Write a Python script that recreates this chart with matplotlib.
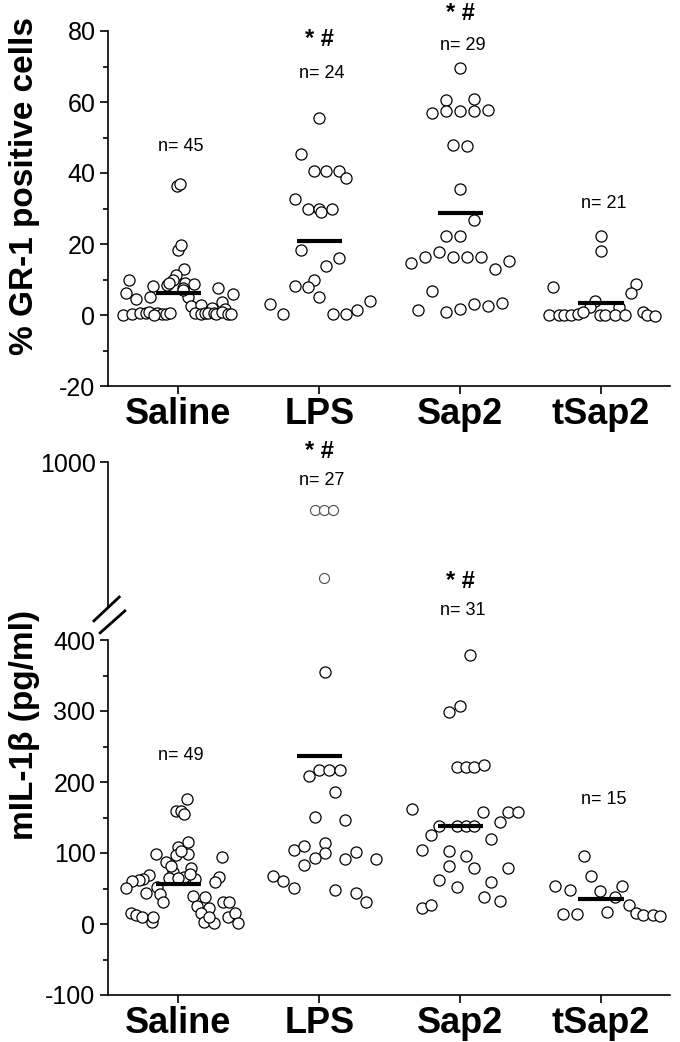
import matplotlib
matplotlib.use('Agg')
import numpy as np
import matplotlib.pyplot as plt
from matplotlib.ticker import MultipleLocator

plt.rcParams['font.family'] = ['Liberation Sans', 'DejaVu Sans']
plt.rcParams['axes.unicode_minus'] = False

groups = ['Saline', 'LPS', 'Sap2', 'tSap2']

# ---- top panel: % GR-1 positive cells (values + horizontal scatter)
gr1_saline = [36.2, 36.9, 18.3, 19.7, 13.0, 11.3, 10.0, 8.5, 8.2, 9.9, 8.9, 8.6, 6.1, 4.4,
              5.2, 5.2, 7.7, 5.9, 3.8, 2.4, 2.8, 2.1, 1.6,
              0.1, 0.2, 0.5, 0.7, 0.9, 0.5, 0.2, 0.2, 0.5, 0.2, 0.5, 0.7, 0.5, 0.2, 0.9, 0.2, 0.2,
              7.6, 8.9, 7.0, 0.0, 0.6]
gr1_saline_dx = [-0.01, 0.01, 0.0, 0.02, 0.04, -0.02, -0.04, -0.08, -0.18, -0.35, 0.05, 0.11,
                 -0.37, -0.30, -0.20, 0.07, 0.28, 0.39, 0.31, 0.09, 0.16, 0.24, 0.33,
                 -0.39, -0.33, -0.27, -0.23, -0.21, -0.15, -0.12, -0.09, 0.12, 0.16, 0.19, 0.21,
                 0.25, 0.27, 0.31, 0.35, 0.37,
                 0.03, -0.07, 0.03, -0.17, -0.06]
gr1_lps = [55.4, 45.3, 40.7, 40.7, 40.7, 38.5, 32.7, 29.8, 29.8, 29.1, 29.8, 18.3, 16.1, 13.8,
           9.9, 8.2, 8.0, 5.2, 3.1, 0.2, 0.2, 0.2, 1.4, 3.9]
gr1_lps_dx = [0.0, -0.13, -0.04, 0.05, 0.14, 0.19, -0.17, -0.08, 0.0, 0.01, 0.09, -0.13, 0.14,
              0.05, -0.04, -0.17, -0.08, 0.0, -0.35, -0.26, 0.10, 0.19, 0.27, 0.36]
gr1_sap2 = [69.5, 60.6, 60.8, 57.0, 57.5, 57.5, 57.5, 57.7, 47.9, 47.7, 35.4, 26.9, 22.3, 22.3,
            14.7, 16.4, 17.8, 16.4, 16.4, 16.4, 12.9, 15.3, 6.8, 1.4, 0.9, 1.6, 3.1, 2.5, 3.3]
gr1_sap2_dx = [0.0, -0.1, 0.1, -0.2, -0.1, 0.0, 0.1, 0.2, -0.05, 0.05, 0.0, 0.1, -0.1, 0.0,
               -0.35, -0.25, -0.15, -0.05, 0.05, 0.15, 0.25, 0.35, -0.2, -0.3, -0.1, 0.0, 0.1,
               0.2, 0.3]
gr1_tsap2 = [22.3, 18.0, 7.8, 8.7, 6.1, 4.0, 2.2, 2.2, 0.0, 0.0, 0.0, 0.0, 0.3, 0.8, 0.0, 0.0,
             0.0, 0.0, 0.8, 0.0, -0.3]
gr1_tsap2_dx = [0.0, 0.0, -0.34, 0.25, 0.21, -0.04, -0.08, 0.13, -0.37, -0.30, -0.26, -0.21,
                -0.16, -0.13, -0.01, 0.03, 0.10, 0.17, 0.30, 0.33, 0.38]
gr1_means = [6.3, 20.9, 28.6, 3.5]
gr1_n = [45, 24, 29, 21]
gr1_sig = [False, True, True, False]

# ---- bottom panel: mIL-1b (pg/ml)
il1b_saline = [176, 159.6, 159.6, 155, 116, 109, 97, 98.6, 98.6, 94.8, 87.7, 73.6, 78.4, 64.3,
               65.7, 62.9, 65.7, 59.6, 69, 63.4, 62, 60.6, 51, 44, 52.5, 41.8, 31.5, 39.4, 38.5,
               25.4, 22, 15, 3.3, 1.9, 10.3, 31.5, 31.5, 10.3, 16, 1.9, 15, 12.7, 10.3, 3.3,
               10.3, 103, 81.7, 64.3, 70]
il1b_saline_dx = [0.06, -0.02, 0.02, 0.04, 0.07, 0.0, -0.02, 0.07, -0.16, 0.31, -0.09, -0.04,
                  0.09, -0.07, 0.04, 0.12, 0.29, 0.26, -0.21, -0.25, -0.28, -0.33, -0.37, -0.23,
                  -0.15, -0.13, -0.11, 0.10, 0.19, 0.13, 0.22, 0.16, 0.18, 0.25, 0.22, 0.32,
                  0.36, 0.35, 0.40, 0.42, -0.34, -0.30, -0.26, -0.19, -0.18, 0.02, -0.05, 0.0,
                  0.08]
il1b_lps = [208.5, 217, 217, 217, 186.3, 151, 146.5, 104, 110, 113.5, 99.4, 92.4, 83, 91.5,
            101.8, 91, 68, 61, 51, 47.9, 43.2, 31.4, 355.4]
il1b_lps_dx = [-0.07, 0.0, 0.07, 0.15, 0.11, -0.03, 0.18, -0.18, -0.11, 0.04, 0.04, -0.03,
               -0.11, 0.18, 0.26, 0.40, -0.33, -0.26, -0.18, 0.11, 0.26, 0.33, 0.04]
il1b_lps_high = [835, 835, 835, 600]          # points above the axis break
il1b_lps_high_dx = [-0.03, 0.03, 0.10, 0.03]
il1b_sap2 = [378.9, 299, 307, 220.7, 220.7, 220.7, 224, 161.5, 157.2, 157.2, 157.2, 138.5,
             138.5, 138.5, 138.5, 143.2, 125.4, 119.2, 104.2, 102.7, 95.8, 81.7, 79.3, 79.3,
             62, 52.6, 59.6, 38.5, 32.8, 23, 26.8]
il1b_sap2_dx = [0.07, -0.08, 0.0, -0.02, 0.04, 0.1, 0.17, -0.34, 0.16, 0.34, 0.41, -0.15,
                -0.02, 0.04, 0.1, 0.28, -0.21, 0.22, -0.27, -0.08, 0.04, -0.08, 0.1, 0.34,
                -0.15, -0.02, 0.22, 0.17, 0.28, -0.27, -0.21]
il1b_tsap2 = [95.8, 67.6, 53.5, 47.9, 46.5, 53.5, 38.5, 26.8, 16, 12.7, 12.7, 11.3, 13.7, 13.7,
              17.3]
il1b_tsap2_dx = [-0.12, -0.07, -0.33, -0.22, -0.01, 0.15, 0.10, 0.2, 0.25, 0.30, 0.37, 0.42,
                 -0.27, -0.17, 0.04]
il1b_means = [57, 236, 138.5, 35]
il1b_n = [49, 27, 31, 15]
il1b_sig = [False, True, True, False]

# label heights (data units) for the n= and significance texts
gr1_n_y = [47.4, 68, 75.8, 31.5]
gr1_sig_y = [None, 77.5, 85, None]
il1b_n_y = [238, 625, 441, 175]
il1b_sig_y = [None, 665, 482, None]

pos = np.arange(1, 5)


def style_axis(ax):
    ax.spines['top'].set_visible(False)
    ax.spines['right'].set_visible(False)
    ax.spines['left'].set_linewidth(1.2)
    ax.spines['bottom'].set_linewidth(1.2)
    ax.tick_params(which='major', direction='out', length=6, width=1.2, labelsize=18, pad=3)
    ax.tick_params(which='minor', direction='out', length=3.5, width=1.2)
    ax.set_xlim(0.5, 4.49)
    ax.set_xticks(pos)
    ax.set_xticklabels(groups, fontsize=26, fontweight='bold')
    ax.tick_params(axis='x', pad=2)
    ax.patch.set_visible(False)


def dots(ax, p, dx, vals, size=64, lw=0.9, ec='black'):
    ax.scatter(p + np.array(dx), vals, s=size, facecolors='white', edgecolors=ec,
               linewidths=lw, zorder=3, clip_on=False)


def annotate(ax, n, n_y, sig, sig_y):
    for p, nn, ny, s, sy in zip(pos, n, n_y, sig, sig_y):
        ax.text(p + 0.02, ny, f'n= {nn}', ha='center', va='center', fontsize=13)
        if s:
            ax.text(p, sy, '* #', ha='center', va='center', fontsize=17, fontweight='bold')


fig = plt.figure(figsize=(6.8, 10.42), dpi=100)
W, H = 680, 1042
ax1 = fig.add_axes([108 / W, 1 - 386 / H, 562 / W, 355 / H])
ax2 = fig.add_axes([108 / W, 1 - 995 / H, 562 / W, 355 / H])
ax3 = fig.add_axes([108 / W, 1 - 607 / H, 562 / W, 145 / H])

# top panel
style_axis(ax1)
ax1.set_ylim(-20, 80)
ax1.set_yticks(range(-20, 81, 20))
ax1.yaxis.set_minor_locator(MultipleLocator(10))
for p, dx, v in zip(pos, [gr1_saline_dx, gr1_lps_dx, gr1_sap2_dx, gr1_tsap2_dx],
                    [gr1_saline, gr1_lps, gr1_sap2, gr1_tsap2]):
    dots(ax1, p, dx, v)
ax1.hlines(gr1_means, pos - 0.16, pos + 0.16, colors='black', lw=3, zorder=4)
annotate(ax1, gr1_n, gr1_n_y, gr1_sig, gr1_sig_y)
fig.text(25 / W, 1 - 186 / H, '% GR-1 positive cells', rotation=90, ha='center', va='center',
         fontsize=24, fontweight='bold')

# bottom panel, below the break
style_axis(ax2)
ax2.set_ylim(-100, 400)
ax2.set_yticks(range(-100, 401, 100))
ax2.yaxis.set_minor_locator(MultipleLocator(50))
for p, dx, v in zip(pos, [il1b_saline_dx, il1b_lps_dx, il1b_sap2_dx, il1b_tsap2_dx],
                    [il1b_saline, il1b_lps, il1b_sap2, il1b_tsap2]):
    dots(ax2, p, dx, v)
ax2.hlines(il1b_means, pos - 0.16, pos + 0.16, colors='black', lw=3, zorder=4)
annotate(ax2, il1b_n, il1b_n_y, il1b_sig, il1b_sig_y)
fig.text(25 / W, 1 - 725 / H, 'mIL-1β (pg/ml)', rotation=90, ha='center', va='center',
         fontsize=24, fontweight='bold')

# break marks
ax2.plot([-0.025, 0.020], [1.054, 1.121], transform=ax2.transAxes, color='black', lw=2,
         clip_on=False)
ax2.plot([-0.014, 0.030], [1.020, 1.082], transform=ax2.transAxes, color='black', lw=2,
         clip_on=False)

# bottom panel, above the break
ax3.set_xlim(0.5, 4.49)
ax3.set_ylim(500, 1000)
for s in ['top', 'right', 'bottom']:
    ax3.spines[s].set_visible(False)
ax3.spines['left'].set_linewidth(1.2)
ax3.set_xticks([])
ax3.set_yticks([1000])
ax3.tick_params(axis='y', direction='out', length=6, width=1.2, labelsize=18, pad=3)
ax3.patch.set_visible(False)
dots(ax3, 2, il1b_lps_high_dx, il1b_lps_high, size=52, lw=0.8, ec='0.3')

fig.savefig('out.png', dpi=100)
